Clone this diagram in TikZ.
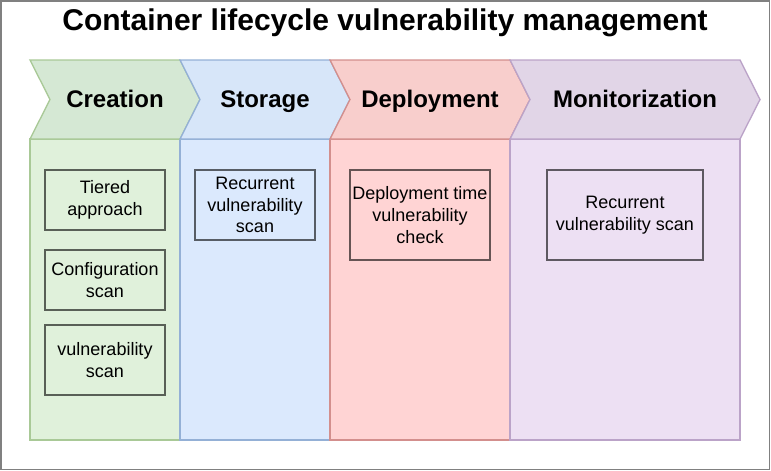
\documentclass[tikz,border=0pt]{standalone}
\usepackage{fontspec}
\setmainfont{Liberation Sans}
\definecolor{gfill}{HTML}{D5E8D4}\definecolor{gcol}{HTML}{E0F1DB}\definecolor{gline}{HTML}{A9C997}
\definecolor{bfill}{HTML}{D7E6F9}\definecolor{bcol}{HTML}{DBE9FD}\definecolor{bline}{HTML}{94B0D6}
\definecolor{rfill}{HTML}{F8CECC}\definecolor{rcol}{HTML}{FFD4D4}\definecolor{rline}{HTML}{D38F8D}
\definecolor{pfill}{HTML}{E1D5E7}\definecolor{pcol}{HTML}{EDE0F3}\definecolor{pline}{HTML}{BBA3C8}
\definecolor{frame}{HTML}{808080}
\tikzset{
  hdr/.style={font=\fontsize{18}{21.6}\selectfont\bfseries, anchor=base},
  col/.style={line width=1.2pt},
  chev/.style={line width=1pt},
  item/.style={draw=black, draw opacity=0.6, line width=1pt, inner sep=0pt, align=center,
    font=\fontsize{13.5}{16.2}\selectfont},
}
\begin{document}
\begin{tikzpicture}[x=0.75pt,y=-0.75pt]
\useasboundingbox (0,0) rectangle (771,471);
\draw[frame, line width=1.2pt] (0.8,0.8) rectangle (769.6,469.6);
\node[font=\fontsize{22.5}{27}\selectfont\bfseries, anchor=base] (title) at (385,31) {Container lifecycle vulnerability management};
% columns
\draw[col, fill=gcol, draw=gline] (30,139) rectangle (180,440);
\draw[col, fill=bcol, draw=bline] (180,139) rectangle (330,440);
\draw[col, fill=rcol, draw=rline] (330,139) rectangle (510,440);
\draw[col, fill=pcol, draw=pline] (510,139) rectangle (740,440);
% chevrons
\draw[chev, fill=gfill, draw=gline] (30,60) -- (180,60) -- (200,99.5) -- (180,139) -- (30,139) -- (50,99.5) -- cycle;
\draw[chev, fill=bfill, draw=bline] (180,60) -- (330,60) -- (350,99.5) -- (330,139) -- (180,139) -- (200,99.5) -- cycle;
\draw[chev, fill=rfill, draw=rline] (330,60) -- (510,60) -- (530,99.5) -- (510,139) -- (330,139) -- (350,99.5) -- cycle;
\draw[chev, fill=pfill, draw=pline] (510,60) -- (740,60) -- (760,99.5) -- (740,139) -- (510,139) -- (530,99.5) -- cycle;
\node[hdr] (h1) at (115,107) {Creation};
\node[hdr] (h2) at (265,107) {Storage};
\node[hdr] (h3) at (430,107) {Deployment};
\node[hdr] (h4) at (635,107) {Monitorization};
% items
\node[item, minimum width=120*0.75pt, minimum height=60*0.75pt] (c1) at (105,200) {Tiered\\approach};
\node[item, minimum width=120*0.75pt, minimum height=60*0.75pt] (c2) at (105,280) {Configuration\\scan};
\node[item, minimum width=120*0.75pt, minimum height=70*0.75pt] (c3) at (105,360) {vulnerability\\scan};
\node[item, minimum width=120*0.75pt, minimum height=70*0.75pt] (s1) at (255,205) {Recurrent\\vulnerability\\scan};
\node[item, minimum width=140*0.75pt, minimum height=90*0.75pt] (d1) at (420,215) {Deployment time\\vulnerability\\check};
\node[item, minimum width=156*0.75pt, minimum height=90*0.75pt] (m1) at (625,215) {Recurrent\\vulnerability scan};
\end{tikzpicture}
\end{document}
